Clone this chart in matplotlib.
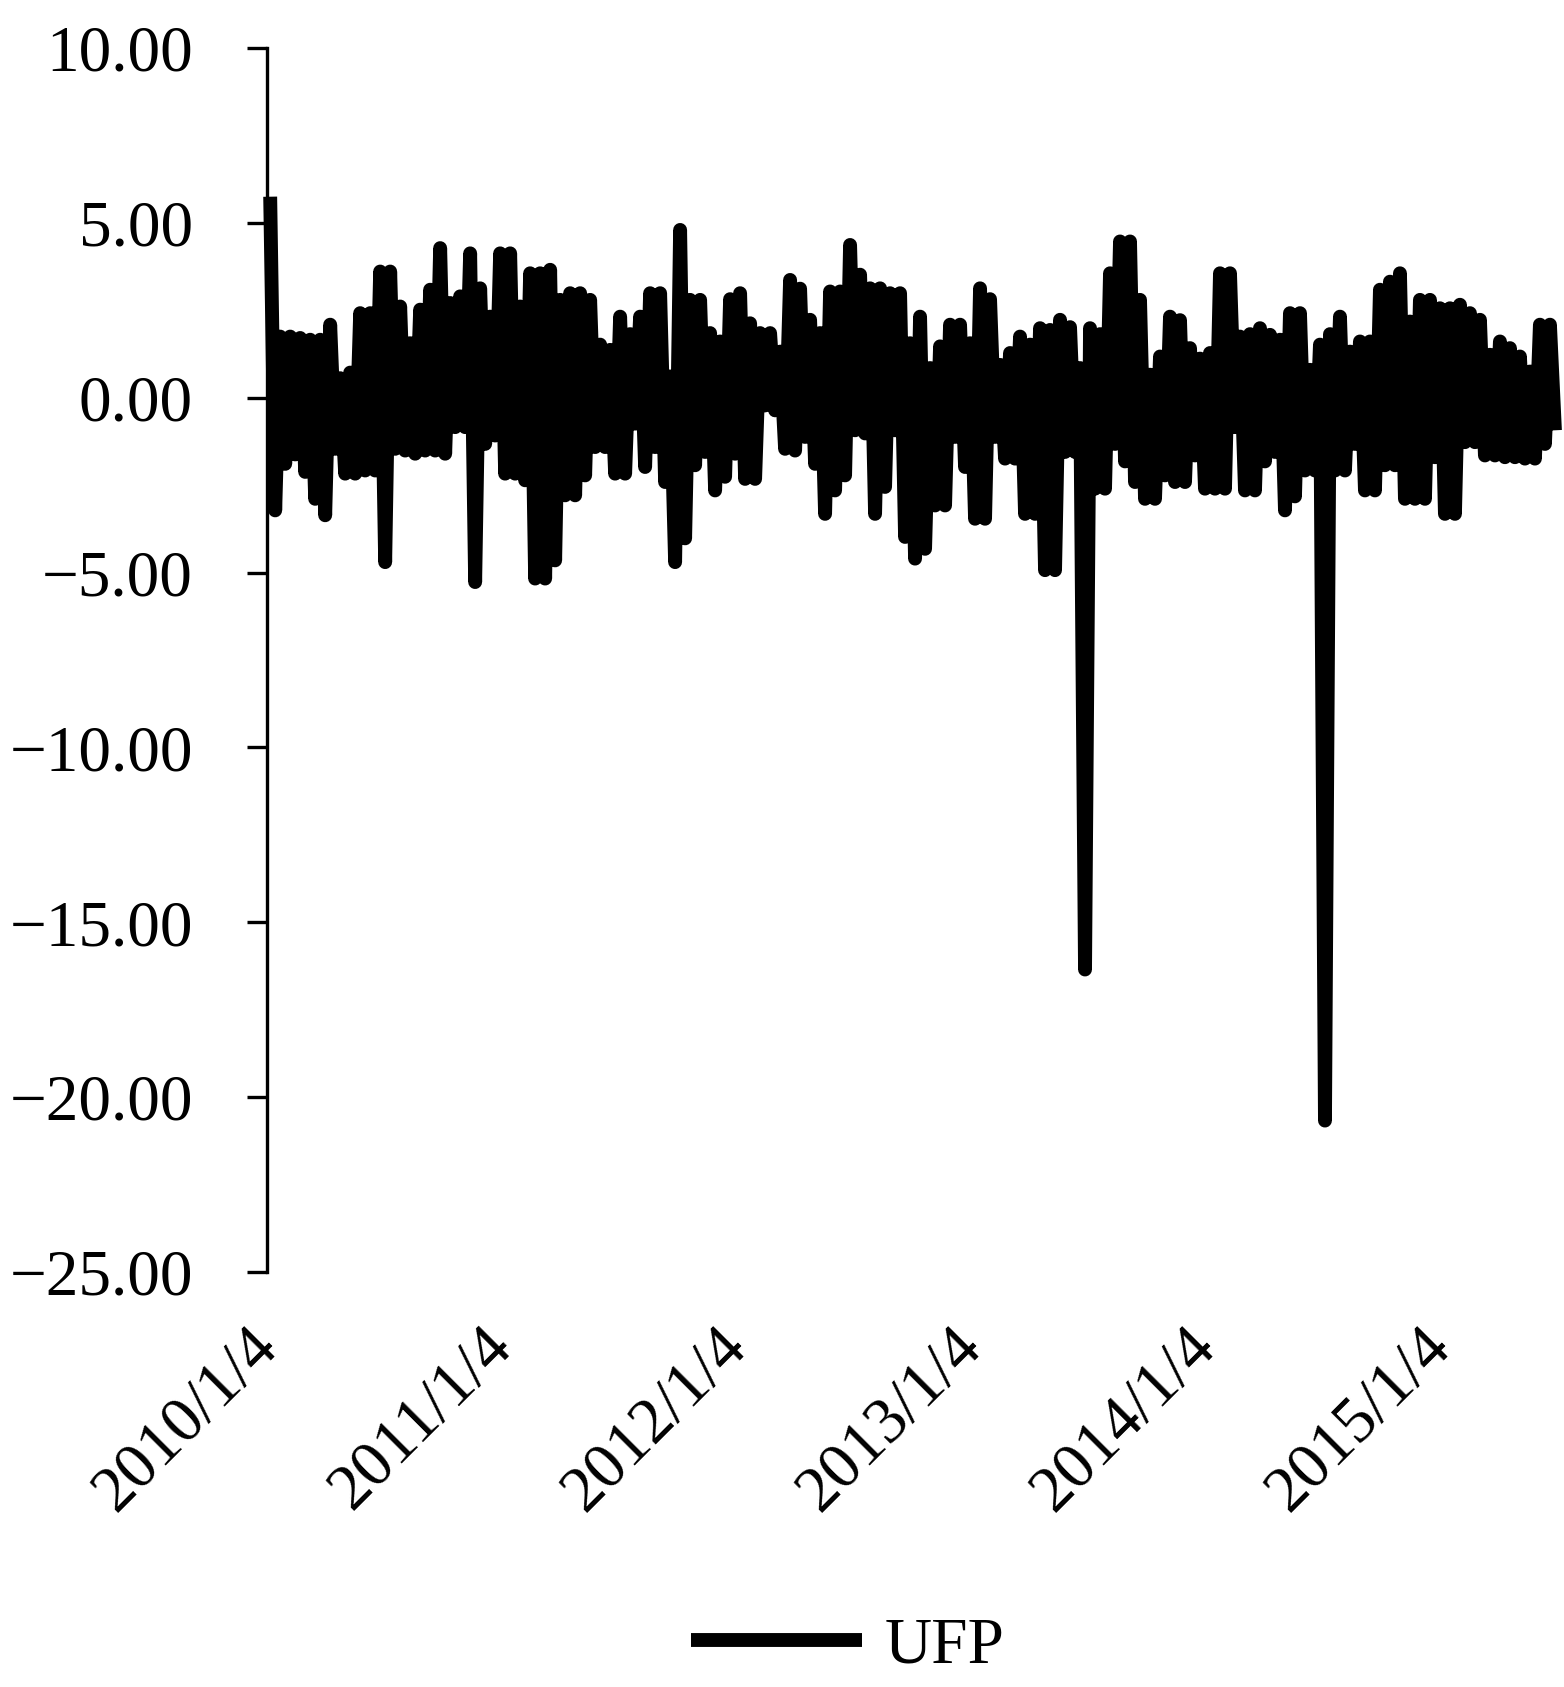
import numpy as np
import pandas as pd
import matplotlib
matplotlib.use('Agg')
import matplotlib.pyplot as plt
from matplotlib.ticker import FuncFormatter
from matplotlib.transforms import ScaledTranslation

plt.rcParams['font.family'] = ['Liberation Serif', 'DejaVu Serif']

# UFP series: one high and one low per ~2 week block
ufp_high = [
    5.75, 1.75, 1.75, 1.71, 1.66, 1.66, 2.09, 0.56, 0.72, 2.42, 2.42, 3.61, 3.61,
    2.61, 1.56, 2.52, 3.09, 4.28, 2.71, 2.90, 4.13, 3.13, 2.32, 4.13, 4.13, 2.61,
    3.56, 3.56, 3.66, 2.80, 2.99, 2.99, 2.80, 1.52, 1.37, 2.32, 1.82, 2.32, 2.99,
    2.99, 0.61, 4.80, 2.80, 2.80, 1.85, 1.61, 2.82, 2.99, 2.13, 1.85, 1.85, 1.32,
    3.37, 3.12, 2.23, 1.85, 3.04, 3.04, 4.37, 3.52, 3.13, 3.13, 2.99, 2.99, 1.56,
    2.32, 0.85, 1.47, 2.09, 2.09, 1.56, 3.13, 2.82, 0.94, 1.28, 1.75, 1.52, 1.99,
    1.94, 2.23, 2.02, 0.85, 1.99, 1.82, 3.56, 4.47, 4.47, 2.80, 0.66, 1.18, 2.32,
    2.22, 1.42, 1.12, 1.28, 3.56, 3.56, 1.75, 1.82, 1.99, 1.80, 1.66, 2.42, 2.42,
    0.80, 1.52, 1.82, 2.32, 1.32, 1.61, 1.61, 3.09, 3.32, 3.56, 2.18, 2.80, 2.80,
    2.56, 2.56, 2.66, 2.42, 2.23, 1.23, 1.61, 1.42, 1.18, 0.75, 2.09, 2.09,
]
ufp_low = [
    -3.22, -1.89, -1.62, -2.12, -2.89, -3.36, -1.46, -2.17, -2.17, -2.08, -2.08, -4.70, -1.46,
    -1.51, -1.60, -1.51, -1.51, -1.60, -0.84, -0.84, -5.27, -1.32, -1.08, -2.17, -2.17, -2.36,
    -5.17, -5.17, -4.65, -2.79, -2.79, -2.22, -1.41, -1.41, -2.17, -2.17, -0.74, -1.98, -1.41,
    -2.41, -4.70, -4.02, -1.93, -1.55, -2.65, -2.26, -1.60, -2.32, -2.32, -0.22, -0.36, -1.46,
    -1.51, -1.12, -1.89, -3.32, -2.65, -2.22, -0.93, -1.02, -3.32, -2.55, -0.93, -3.98, -4.60,
    -4.32, -3.08, -3.08, -1.12, -1.98, -3.46, -3.46, -1.12, -1.74, -1.74, -3.32, -3.32, -4.93,
    -4.93, -1.55, -1.55, -16.35, -2.60, -2.60, -1.32, -1.82, -2.41, -2.89, -2.89, -2.22, -2.41,
    -2.41, -1.65, -2.60, -2.60, -2.60, -0.84, -2.65, -2.65, -1.82, -1.55, -3.22, -2.82, -2.08,
    -2.08, -20.67, -2.08, -2.08, -1.32, -2.65, -2.65, -1.93, -1.93, -2.89, -2.89, -2.89, -1.70,
    -3.32, -3.32, -1.27, -1.27, -1.65, -1.65, -1.70, -1.70, -1.74, -1.74, -1.32, -0.93,
]
tick_labels = ['2010/1/4', '2011/1/4', '2012/1/4', '2013/1/4', '2014/1/4', '2015/1/4']

series = []
for h, l in zip(ufp_high, ufp_low):
    series += [h, l]
dates = pd.date_range('2010-01-09', '2015-07-02', periods=len(series))

fig = plt.figure(figsize=(15.64, 16.87), dpi=100)
ax = fig.add_axes([0.1707, 0.246, 0.8235, 0.7255])

ax.plot(dates, series, color='black', lw=10, solid_joinstyle='round',
        solid_capstyle='butt', clip_on=False, label='UFP')

ax.set_xlim(pd.Timestamp('2010-01-04'), pd.Timestamp('2015-07-02'))
ax.set_ylim(-25, 10)
ax.set_yticks(np.arange(-25, 10.1, 5))
ax.yaxis.set_major_formatter(FuncFormatter(lambda v, p: f'{v:.2f}'.replace('-', '\u2212')))

for s in ['top', 'right', 'bottom']:
    ax.spines[s].set_visible(False)
ax.spines['left'].set_linewidth(2.4)
ax.tick_params(axis='y', length=14.4, width=2.4, labelsize=47, pad=39, direction='out')
ax.tick_params(axis='x', length=0, labelsize=47, pad=0)

ax.set_xticks(pd.to_datetime(tick_labels, format='%Y/%m/%d'))
ax.set_xticklabels(tick_labels, rotation=45, ha='right', va='top', rotation_mode='anchor')
shift = ScaledTranslation(-20 / 100, -45 / 100, fig.dpi_scale_trans)
for lbl in ax.get_xticklabels():
    lbl.set_transform(lbl.get_transform() + shift)

leg = fig.legend(loc='center', bbox_to_anchor=(0.5419, 0.0237), frameon=False, fontsize=47,
                 handlelength=2.62, handletextpad=0.34, borderpad=0, borderaxespad=0)
for h in leg.get_lines():
    h.set_linewidth(10)

fig.savefig('out.png', dpi=100)
